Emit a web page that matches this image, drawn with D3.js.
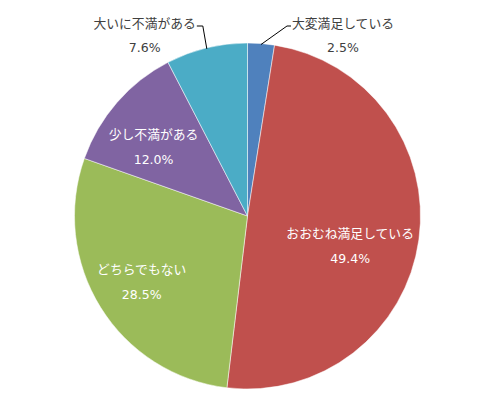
<!DOCTYPE html>
<html>
<head>
<meta charset="utf-8">
<script src="https://cdn.jsdelivr.net/npm/d3@7"></script>
<style>
  body { margin: 0; background: #fff; }
  text { font-family: "Noto Sans CJK JP", "Noto Sans", sans-serif; font-size: 12.8px; }
  text.pct { font-family: "DejaVu Sans", sans-serif; font-size: 12.5px; }
</style>
</head>
<body>
<div class="canva"></div>
<script>
// data, clockwise from 12 o'clock
var categories = ["大変満足している", "おおむね満足している", "どちらでもない", "少し不満がある", "大いに不満がある"];
var values = [2.5, 49.4, 28.5, 12.0, 7.6];
var colors = ["#4f81bd", "#c0504d", "#9bbb59", "#8064a2", "#4bacc6"];
// which labels sit outside the pie (with a leader line)
var outside = [true, false, false, false, true];

const width = 490, height = 412;
const cx = 247.5, cy = 216, R = 173;

const svg = d3.select(".canva").append("svg")
    .attr("width", width)
    .attr("height", height);

const g = svg.append("g")
    .attr("transform", `translate(${cx}, ${cy})`);

var pie = d3.pie().sort(null).value(d => d);
var arcs = pie(values);

var arc = d3.arc().innerRadius(0).outerRadius(R);

g.selectAll("path.slice")
    .data(arcs)
    .enter()
    .append("path")
    .attr("class", "slice")
    .attr("d", arc)
    .attr("fill", (d, i) => colors[i])
    .attr("stroke", "#ffffff")
    .attr("stroke-width", 0.5);

const lineGap = 26;   // distance between name and percent lines
const boxH = 38;
const fmt = d3.format(".1f");
const lim = R - 4;

// inside labels: box centred on a ray; if its top pokes out, drop it, then slide sideways to fit
arcs.forEach((d, i) => {
    if (outside[i]) return;
    var mid = (d.startAngle + d.endAngle) / 2;
    var name = categories[i];

    var tmp = g.append("text").text(name);
    var w = tmp.node().getComputedTextLength();
    tmp.remove();

    var r = R * 0.72;
    var x = r * Math.sin(mid);
    var y = -r * Math.cos(mid);
    var topOut = [-1, 1].some(s => Math.hypot(x + s * w / 2, y - boxH / 2) > lim);
    if (topOut) y += 12;
    var xmax = Math.sqrt(lim * lim - y * y) - w / 2;
    if (x > xmax) x = xmax;
    if (x < -xmax) x = -xmax;

    g.append("text")
        .attr("x", x).attr("y", y - lineGap / 2)
        .attr("text-anchor", "middle")
        .attr("dominant-baseline", "central")
        .attr("fill", "#ffffff")
        .text(name);
    g.append("text")
        .attr("class", "pct")
        .attr("x", x).attr("y", y + lineGap / 2)
        .attr("text-anchor", "middle")
        .attr("dominant-baseline", "central")
        .attr("fill", "#ffffff")
        .text(fmt(values[i]) + "%");
});

// outside labels with leader lines
const nameY = 22 - cy;
arcs.forEach((d, i) => {
    if (!outside[i]) return;
    var mid = (d.startAngle + d.endAngle) / 2;
    var ax = (R - 1) * Math.sin(mid), ay = -(R - 1) * Math.cos(mid);
    var right = Math.sin(mid) > 0;
    var elbowY = 26 - cy;
    var elbowX = right ? ax + 26 : ax - 4;
    var endX = right ? elbowX + 4 : elbowX - 6;

    g.append("path")
        .attr("d", d3.line()([[ax, ay], [elbowX, elbowY], [endX, elbowY]]))
        .attr("fill", "none")
        .attr("stroke", "#000000")
        .attr("stroke-width", 1);

    var t = g.append("text")
        .attr("x", endX + (right ? 1 : -1))
        .attr("y", nameY)
        .attr("text-anchor", right ? "start" : "end")
        .attr("dominant-baseline", "central")
        .attr("fill", "#404040")
        .text(categories[i]);
    var w = t.node().getComputedTextLength();
    var centerX = right ? endX + 1 + w / 2 : endX - 1 - w / 2;

    g.append("text")
        .attr("class", "pct")
        .attr("x", centerX)
        .attr("y", nameY + lineGap - 0.5)
        .attr("text-anchor", "middle")
        .attr("dominant-baseline", "central")
        .attr("fill", "#404040")
        .text(fmt(values[i]) + "%");
});
</script>
</body>
</html>
